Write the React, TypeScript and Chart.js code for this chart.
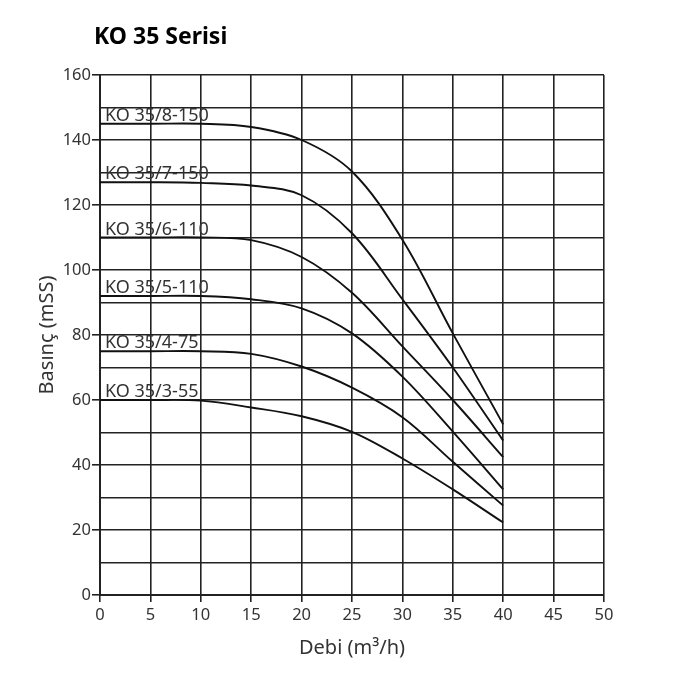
import React, { useEffect, useRef } from "react";
import { Chart, registerables } from "chart.js";

Chart.register(...registerables);

const chartTitle = "KO 35 Serisi";
const xTitle = "Debi (m³/h)";
const yTitle = "Basınç (mSS)";

const flow = [0, 5, 10, 15, 20, 25, 30, 35, 40];
const seriesNames = ["KO 35/8-150", "KO 35/7-150", "KO 35/6-110", "KO 35/5-110", "KO 35/4-75", "KO 35/3-55"];
const ko8 = [145, 145, 145, 144, 140, 130.3, 109.3, 80.5, 52.5];
const ko7 = [127, 127, 126.8, 126, 123, 111.3, 91, 70, 47.5];
const ko6 = [110, 110, 110, 109.2, 104, 93, 76.5, 60, 42.4];
const ko5 = [92, 92, 92, 91, 88.2, 80.5, 67.2, 50.3, 32.5];
const ko4 = [75, 75, 75, 74.2, 70.3, 63.8, 54.7, 41, 27.5];
const ko3 = [60, 60, 59.8, 57.7, 55, 50.2, 42, 32.5, 22.3];
const seriesValues = [ko8, ko7, ko6, ko5, ko4, ko3];

const FONT = "'Noto Sans', sans-serif";
const GRID = "#222";
const TEXT = "#333";

export default function App() {
  const ref = useRef<HTMLCanvasElement | null>(null);

  useEffect(() => {
    if (!ref.current) return;

    const labelPlugin = {
      id: "curveLabels",
      afterDatasetsDraw(chart: any) {
        const { ctx, scales } = chart;
        ctx.save();
        ctx.font = `18px ${FONT}`;
        ctx.fillStyle = TEXT;
        ctx.textAlign = "left";
        ctx.textBaseline = "alphabetic";
        chart.data.datasets.forEach((ds: any) => {
          const p = ds.data[0];
          const x = scales.x.getPixelForValue(p.x) + 5;
          const y = scales.y.getPixelForValue(p.y) - 3;
          ctx.fillText(ds.label, x, y);
        });
        ctx.font = `bold 23px ${FONT}`;
        ctx.fillStyle = "#000";
        ctx.fillText(chartTitle, 94, 44);
        ctx.restore();
      },
    };

    const chart = new Chart(ref.current, {
      type: "line",
      data: {
        datasets: seriesValues.map((vals, i) => ({
          label: seriesNames[i],
          data: flow.map((f, j) => ({ x: f, y: vals[j] })),
          borderColor: "#111",
          borderWidth: 1.9,
          pointRadius: 0,
          fill: false,
          tension: 0.35,
        })),
      },
      options: {
        animation: false,
        responsive: false,
        devicePixelRatio: 1,
        layout: { padding: { top: 75, right: 96, left: 0, bottom: 0 } },
        plugins: {
          legend: { display: false },
          tooltip: { enabled: false },
          title: { display: false },
        },
        scales: {
          x: {
            type: "linear",
            min: 0,
            max: 50,
            afterFit: (s: any) => {
              s.height = 105;
            },
            ticks: {
              stepSize: 5,
              padding: 3,
              color: TEXT,
              font: { family: FONT, size: 16.5 },
            },
            grid: { color: GRID, lineWidth: 1.6, tickLength: 7, tickColor: GRID },
            border: { color: GRID, width: 2 },
            title: {
              display: true,
              text: xTitle,
              color: TEXT,
              font: { family: FONT, size: 20 },
              padding: { top: 0, bottom: 40 },
            },
          },
          y: {
            type: "linear",
            min: 0,
            max: 160,
            afterFit: (s: any) => {
              s.width = 100;
            },
            ticks: {
              stepSize: 10,
              padding: 1,
              color: TEXT,
              font: { family: FONT, size: 16.5 },
              callback: (v: any) => (Number(v) % 20 === 0 ? String(v) : ""),
            },
            grid: {
              color: GRID,
              lineWidth: 1.6,
              tickLength: 8,
              tickColor: (c: any) => (c.tick && c.tick.value % 20 === 0 ? GRID : "rgba(0,0,0,0)"),
            },
            border: { color: GRID, width: 2 },
            title: {
              display: true,
              text: yTitle,
              color: TEXT,
              font: { family: FONT, size: 20 },
              padding: { top: 35, bottom: 0 },
            },
          },
        },
      },
      plugins: [labelPlugin],
    });

    return () => chart.destroy();
  }, []);

  return (
    <canvas
      ref={ref}
      width={700}
      height={700}
      style={{ position: "fixed", left: 0, top: 0, width: 700, height: 700, background: "#fff" }}
    />
  );
}
